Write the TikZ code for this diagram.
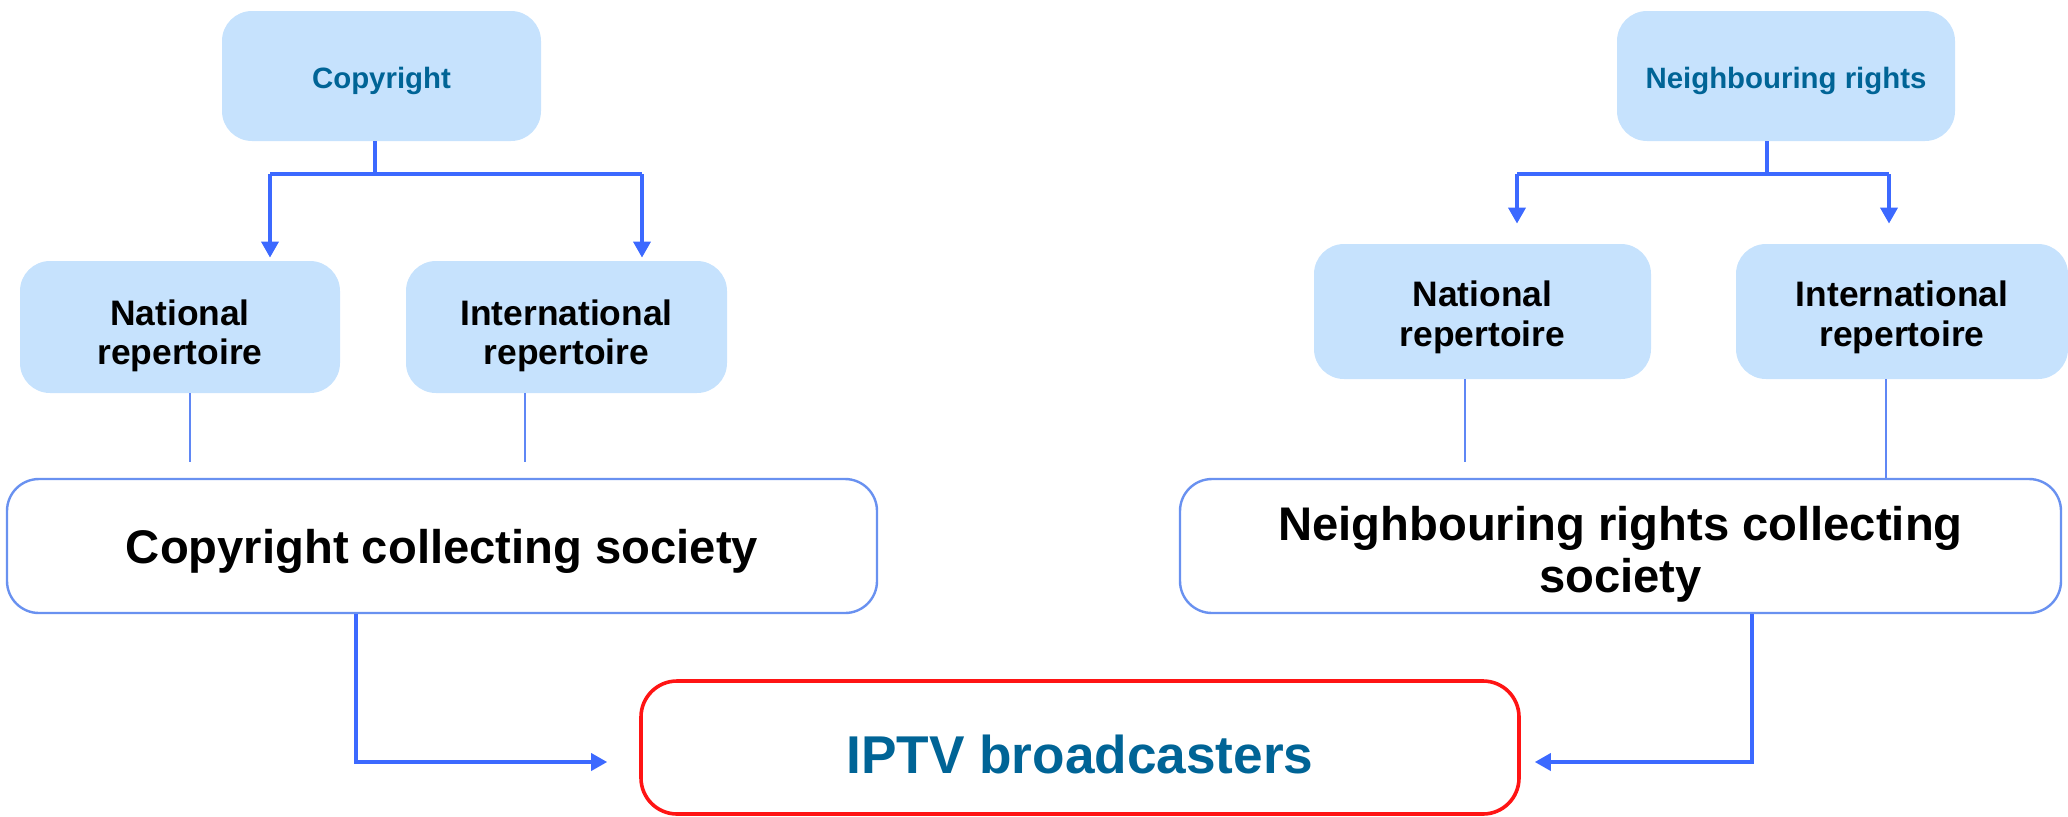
\documentclass[tikz,border=0pt]{standalone}
\usepackage{fontspec}
\setmainfont{Liberation Sans}
\usetikzlibrary{arrows.meta,calc}
\definecolor{boxfill}{RGB}{198,226,253}
\definecolor{headtext}{RGB}{0,100,150}
\definecolor{connblue}{RGB}{60,105,255}
\definecolor{thinblue}{RGB}{95,135,245}
\definecolor{frameblue}{RGB}{105,145,240}
\definecolor{framered}{RGB}{255,20,20}
\tikzset{
  topbox/.style={fill=boxfill, draw=none, rounded corners=15pt, align=center,
    font=\fontsize{14.7pt}{16pt}\selectfont\bfseries, text=headtext, inner sep=0pt},
  repbox/.style={fill=boxfill, draw=none, rounded corners=15pt, align=center,
    font=\fontsize{17.7pt}{19.8pt}\selectfont\bfseries, text=black, inner sep=0pt},
  socbox/.style={fill=white, draw=frameblue, line width=1.2pt, rounded corners=16pt, align=center,
    font=\fontsize{23.6pt}{26pt}\selectfont\bfseries, text=black, inner sep=0pt},
  iptvbox/.style={fill=white, draw=framered, line width=1.8pt, rounded corners=18pt, align=center,
    font=\fontsize{26.6pt}{29pt}\selectfont\bfseries, text=headtext, inner sep=0pt},
  conn/.style={draw=connblue, line width=1.8pt},
  arr/.style={conn, -{Triangle[length=8pt,width=8.5pt]}},
  feed/.style={draw=thinblue, line width=1.4pt},
}
\begin{document}
\begin{tikzpicture}[x=0.5pt,y=-0.5pt]
\useasboundingbox (0,0) rectangle (2068,816);

% boxes
\node[topbox, minimum width=159.5pt, minimum height=65pt] (cr) at (381.5,76) {};
\node[text=headtext, font=\fontsize{14.7pt}{16pt}\selectfont\bfseries] (crt) at (381.5,81) {Copyright};
\node[repbox, minimum width=160pt, minimum height=66pt] (ln) at (180,327) {};
\node[align=center, font=\fontsize{17.7pt}{19.8pt}\selectfont\bfseries] (lnt) at (180,336) {National\\repertoire};
\node[repbox, minimum width=160.5pt, minimum height=66pt] (li) at (566.5,327) {};
\node[align=center, font=\fontsize{17.7pt}{19.8pt}\selectfont\bfseries] (lit) at (566.5,336) {International\\repertoire};
\node[socbox, minimum width=435pt, minimum height=67pt] (ccs) at (442,546) {};
\node[font=\fontsize{23.6pt}{26pt}\selectfont\bfseries] (ccst) at (442,551) {Copyright collecting society};

\node[topbox, minimum width=169pt, minimum height=65pt] (nr) at (1786,76) {};
\node[text=headtext, font=\fontsize{14.7pt}{16pt}\selectfont\bfseries] (nrt) at (1786,81) {Neighbouring rights};
\node[repbox, minimum width=168.5pt, minimum height=67.5pt] (rn) at (1482.5,311.5) {};
\node[align=center, font=\fontsize{17.7pt}{19.8pt}\selectfont\bfseries] (rnt) at (1482.5,317.5) {National\\repertoire};
\node[repbox, minimum width=166pt, minimum height=67.5pt] (ri) at (1902,311.5) {};
\node[align=center, font=\fontsize{17.7pt}{19.8pt}\selectfont\bfseries] (rit) at (1902,317.5) {International\\repertoire};
\node[socbox, minimum width=440.5pt, minimum height=67pt] (ncs) at (1620.5,546) {};
\node[align=center, font=\fontsize{23.6pt}{26pt}\selectfont\bfseries] (ncst) at (1620.5,554) {Neighbouring rights collecting\\society};

\node[iptvbox, minimum width=439pt, minimum height=66.5pt] (iptv) at (1080,747.5) {};
\node[text=headtext, font=\fontsize{26.6pt}{29pt}\selectfont\bfseries] (iptvt) at (1080,754.5) {IPTV broadcasters};

% copyright branch
\coordinate (cjM) at (375,174);
\coordinate (cjL) at (270,174);
\coordinate (cjR) at (642,174);
\draw[conn] (cr.south -| cjM) -- (cjM);
\draw[conn] (cjL) -- (cjR);
\draw[arr] (cjL) -- ($(cjL |- ln.north)+(0,-3)$);
\draw[arr] (cjR) -- ($(cjR |- li.north)+(0,-3)$);

% neighbouring rights branch
\coordinate (njM) at (1767,174);
\coordinate (njL) at (1517,174);
\coordinate (njR) at (1889,174);
\draw[conn] (nr.south -| njM) -- (njM);
\draw[conn] (njL) -- (njR);
\draw[arr] (njL) -- ($(njL |- rn.north)+(0,-20)$);
\draw[arr] (njR) -- ($(njR |- ri.north)+(0,-20)$);

% repertoire feeds
\coordinate (lnEnd) at (190,462);
\coordinate (liEnd) at (525,462);
\coordinate (rnEnd) at (1465,462);
\draw[feed] (lnEnd |- ln.south) -- (lnEnd);
\draw[feed] (liEnd |- li.south) -- (liEnd);
\draw[feed] (rnEnd |- rn.south) -- (rnEnd);
\draw[feed] (ri.south -| 1886,0) -- (ncs.north -| 1886,0);

% societies to broadcasters
\coordinate (lb) at (356,762);
\coordinate (rb) at (1752,762);
\draw[arr] (ccs.south -| lb) -- (lb) -- ($(lb -| iptv.west)+(-32,0)$);
\draw[arr] (ncs.south -| rb) -- (rb) -- ($(rb -| iptv.east)+(14,0)$);
\end{tikzpicture}
\end{document}
